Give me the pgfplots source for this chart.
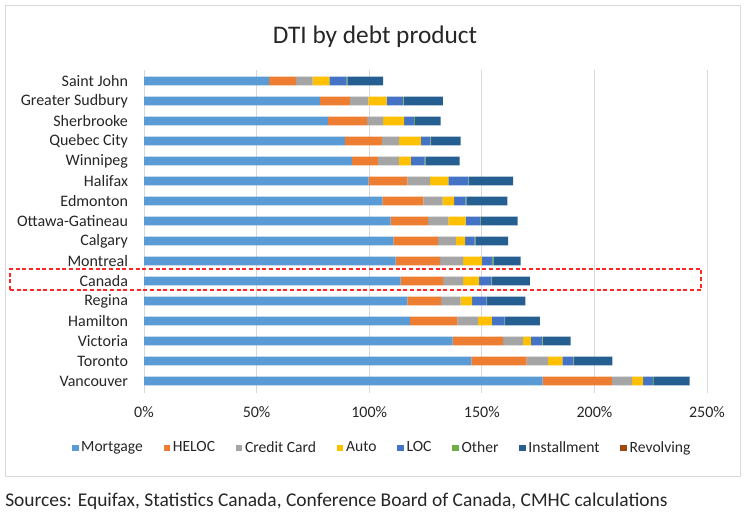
\documentclass[border=0pt]{standalone}
\usepackage{pgfplots}
\pgfplotsset{compat=1.18}
\usepackage{pgfplotstable}
\usepackage{fontspec}
\setmainfont{Carlito}
\definecolor{cM}{HTML}{5B9BD5}
\definecolor{cH}{HTML}{ED7D31}
\definecolor{cC}{HTML}{A5A5A5}
\definecolor{cA}{HTML}{FFC000}
\definecolor{cL}{HTML}{4472C4}
\definecolor{cO}{HTML}{70AD47}
\definecolor{cI}{HTML}{255E91}
\definecolor{cR}{HTML}{9E480E}
\definecolor{gridc}{HTML}{D9D9D9}
\definecolor{txt}{HTML}{262626}
\pgfplotstableread{
idx M H C A L O I
0 177.0 30.7 9.0 4.9 4.5 0.3 15.9
1 145.4 24.5 9.6 6.3 4.9 0.3 17.0
2 137.0 22.5 8.9 3.4 4.9 0.3 12.4
3 118.1 21.0 9.3 6.1 5.6 0.3 15.4
4 116.9 15.0 8.7 5.1 6.4 0.3 17.0
5 113.9 18.9 8.9 7.1 5.5 0.3 16.7
6 111.7 19.8 10.2 8.3 4.8 0.6 11.8
7 110.7 19.9 7.9 4.1 4.2 0.3 14.6
8 109.5 16.7 8.9 7.7 6.3 0.3 16.5
9 105.9 18.1 8.6 5.1 5.1 0.3 18.3
10 99.7 17.2 10.2 8.0 9.0 0.3 19.5
11 92.3 11.6 9.3 5.3 6.1 0.3 15.3
12 89.2 16.4 7.7 9.6 4.3 0.3 13.1
13 81.8 17.3 7.1 9.3 4.5 0.3 11.4
14 78.1 13.3 8.2 8.1 7.3 0.3 17.4
15 55.6 11.9 7.4 7.4 7.7 0.3 15.9
}\dti
\begin{document}
\begin{tikzpicture}
\useasboundingbox (0,0) rectangle (561pt,389.25pt);
\fill[white] (0,0) rectangle (561pt,389.25pt);
\draw[gridc, line width=0.6pt] (3.75pt,32.25pt) rectangle (555pt,385.5pt);
\node[font=\fontsize{19}{21}\selectfont, text=txt] at (281.25pt,361.5pt) {DTI by debt product};
\begin{axis}[
  at={(108pt,94.5pt)}, anchor=south west,
  scale only axis, width=422.25pt, height=242.25pt,
  xbar stacked, bar width=6.5pt,
  xmin=0, xmax=250, ymin=-0.6, ymax=15.55,
  axis line style={draw=none},
  major tick length=0pt,
  xmajorgrids, grid style={gridc, line width=0.75pt},
  xtick={0,50,100,150,200,250},
  xticklabels={0\%,50\%,100\%,150\%,200\%,250\%},
  ytick={0,...,15},
  yticklabels={Vancouver,Toronto,Victoria,Hamilton,Regina,Canada,Montreal,Calgary,Ottawa-Gatineau,Edmonton,Halifax,Winnipeg,Quebec City,Sherbrooke,Greater Sudbury,Saint John},
  tick label style={font=\fontsize{12}{14}\selectfont, text=txt},
  yticklabel style={xshift=-8.5pt},
  xticklabel style={yshift=-7pt},
  legend columns=8,
  legend style={at={(0.4236,-0.17)}, anchor=center, draw=none, fill=none,
    font=\fontsize{11.7}{13}\selectfont, text=txt,
    /tikz/every even column/.append style={column sep=13.5pt}},
  legend image code/.code={\fill[#1] (0pt,-2.5pt) rectangle (5pt,2.5pt);},
]
\addplot[fill=cM, draw=none] table[x=M, y=idx] {\dti};
\addlegendentry{Mortgage}
\addplot[fill=cH, draw=none] table[x=H, y=idx] {\dti};
\addlegendentry{HELOC}
\addplot[fill=cC, draw=none] table[x=C, y=idx] {\dti};
\addlegendentry{Credit Card}
\addplot[fill=cA, draw=none] table[x=A, y=idx] {\dti};
\addlegendentry{Auto}
\addplot[fill=cL, draw=none] table[x=L, y=idx] {\dti};
\addlegendentry{LOC}
\addplot[fill=cO, draw=none] table[x=O, y=idx] {\dti};
\addlegendentry{Other}
\addplot[fill=cI, draw=none] table[x=I, y=idx] {\dti};
\addlegendentry{Installment}
\addlegendimage{fill=cR, draw=none}
\addlegendentry{Revolving}
\end{axis}
\draw[red!80!pink, dashed, line width=1.1pt, dash pattern=on 3pt off 2pt] (7.5pt,171.75pt) rectangle (525.75pt,187.5pt);
\node[anchor=west, font=\fontsize{14.6}{16}\selectfont, text=txt, inner sep=0pt] at (3.75pt,13.5pt) {Sources: Equifax, Statistics Canada, Conference Board of Canada, CMHC calculations};
\end{tikzpicture}
\end{document}
